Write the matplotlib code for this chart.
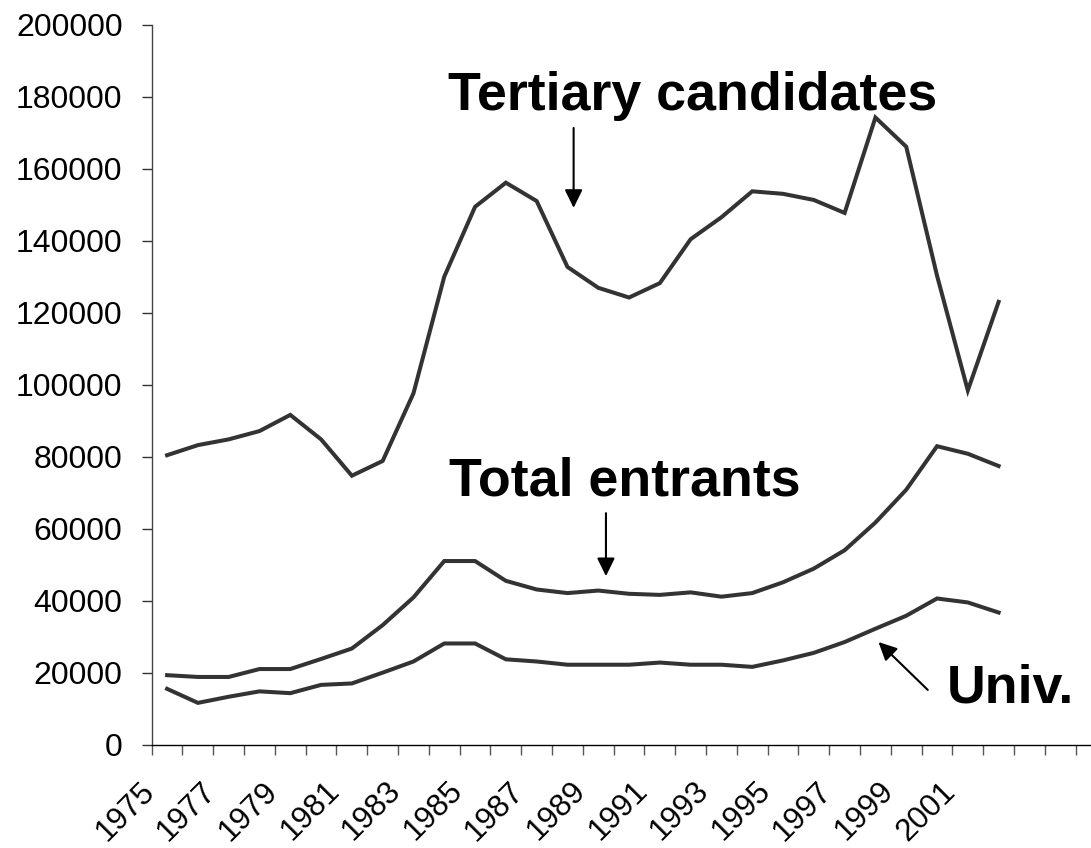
import numpy as np
import matplotlib
matplotlib.use("Agg")
import matplotlib.pyplot as plt
from matplotlib.transforms import ScaledTranslation

plt.rcParams["font.family"] = ["Liberation Sans", "DejaVu Sans"]

# Data
years = list(range(1975, 2003))
tertiaryCandidates = [80500, 83300, 84900, 87200, 91700, 84900, 74800, 78900, 97700, 130100,
                      149500, 156200, 151100, 132800, 127000, 124300, 128300, 140500, 146600,
                      153800, 153100, 151400, 147800, 174300, 166200, 130400, 98500, 123100]
totalEntrants = [19400, 18900, 18900, 21100, 21100, 23900, 26800, 33300, 41000, 51100,
                 51100, 45600, 43200, 42200, 42900, 42000, 41700, 42400, 41200, 42200,
                 45200, 49000, 54100, 61800, 70900, 83000, 80900, 77500]
univEntrants = [15600, 11700, 13400, 14900, 14400, 16700, 17100, 20100, 23200, 28200,
                28200, 23800, 23200, 22300, 22300, 22300, 22900, 22300, 22300, 21700,
                23500, 25600, 28600, 32300, 35900, 40700, 39600, 36800]

nCategories = 31  # axis runs on past the data, cut off at the right edge
yTicks = list(range(0, 200001, 20000))
xLabelYears = list(range(1975, 2002, 2))

lineColor = "#333333"

fig = plt.figure(figsize=(10.91, 8.48), dpi=100)
ax = fig.add_axes([151.7 / 1091, 103 / 848, (1091 - 151.7) / 1091, 720 / 848])

x = np.arange(len(years))
for series in (tertiaryCandidates, totalEntrants, univEntrants):
    ax.plot(x, series, color=lineColor, lw=2.9, solid_joinstyle="miter", clip_on=False)

# y axis
ax.set_yticks(yTicks)
ax.set_yticklabels([str(v) for v in yTicks])
ax.tick_params(axis="y", direction="out", length=7, width=1, colors="#333333",
               labelcolor="black", labelsize=23, pad=14)

# x axis: tick marks between categories, labels on categories
ax.set_xticks(np.arange(-0.5, nCategories - 1, 1.0))
ax.set_xticklabels([])
ax.tick_params(axis="x", which="major", direction="out", length=7, width=1, colors="#555555")
labelPos = [years.index(y) for y in xLabelYears]
ax.set_xticks(labelPos, minor=True)
ax.set_xticklabels([str(y) for y in xLabelYears], minor=True, rotation=45,
                   ha="right", va="center", rotation_mode="anchor", fontsize=22.5)
ax.tick_params(axis="x", which="minor", length=0, pad=30)
offset = ScaledTranslation(-17 / 100, 0, fig.dpi_scale_trans)
for lbl in ax.get_xticklabels(minor=True):
    lbl.set_transform(lbl.get_transform() + offset)

ax.set_xlim(-0.5, 30.0)
ax.set_ylim(0, 200000)

for side in ("top", "right"):
    ax.spines[side].set_visible(False)
ax.spines["left"].set_color("#444444")
ax.spines["bottom"].set_color("black")
ax.spines["left"].set_linewidth(1)
ax.spines["bottom"].set_linewidth(1)

# Annotations
arrowStyle = dict(arrowstyle="-|>,head_length=0.55,head_width=0.27", color="black",
                  lw=1.5, mutation_scale=20, shrinkA=0, shrinkB=0)
ax.text(17.05, 176400, "Tertiary candidates", fontsize=38.7, fontweight="bold",
        ha="center", va="baseline")
ax.annotate("", xy=(13.2, 149200), xytext=(13.2, 171400), arrowprops=arrowStyle)

ax.text(14.87, 69400, "Total entrants", fontsize=38.7, fontweight="bold",
        ha="center", va="baseline")
ax.annotate("", xy=(14.25, 46900), xytext=(14.25, 64400), arrowprops=arrowStyle)

ax.text(25.3, 11700, "Univ.", fontsize=38.7, fontweight="bold", ha="left", va="baseline")
ax.annotate("", xy=(23.1, 28600), xytext=(24.7, 15300), arrowprops=arrowStyle)

fig.savefig("out.png", dpi=100)
